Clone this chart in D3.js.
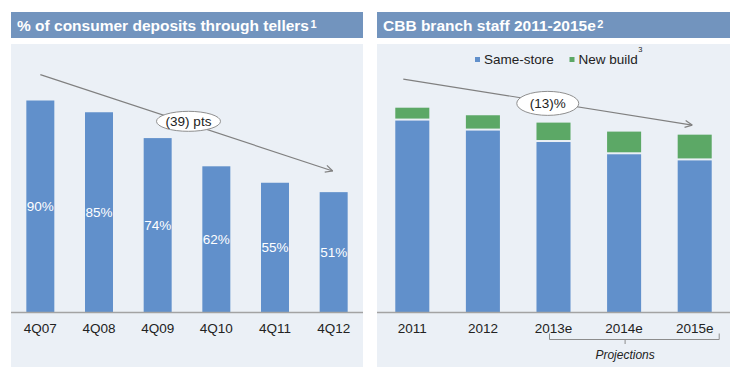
<!DOCTYPE html>
<html>
<head>
<meta charset="utf-8">
<script src="https://cdn.jsdelivr.net/npm/d3@7"></script>
<style>
  html, body { margin: 0; padding: 0; background: #ffffff; }
  svg { display: block; font-family: "Liberation Sans", Arial, sans-serif; }
</style>
</head>
<body>
<svg id="chart" width="736" height="370"></svg>
<script>
// ---- Data ----
const leftTitle = "% of consumer deposits through tellers";
const leftTitleNote = "1";
const leftCategories = ["4Q07", "4Q08", "4Q09", "4Q10", "4Q11", "4Q12"];
const leftValues = [90, 85, 74, 62, 55, 51];
const leftLabels = ["90%", "85%", "74%", "62%", "55%", "51%"];
const leftTrendLabel = "(39) pts";
const leftTrendFrom = 101;   // value at start of trend arrow
const leftTrendTo = 60;      // value at end of trend arrow

const rightTitle = "CBB branch staff 2011-2015e";
const rightTitleNote = "2";
const rightCategories = ["2011", "2012", "2013e", "2014e", "2015e"];
const sameStore = [93.7, 88.8, 83.2, 77.2, 74.2];   // index, 2011 total = 100
const newBuild = [6.3, 7.5, 9.5, 11.1, 12.6];
const seriesNames = ["Same-store", "New build"];
const seriesNotes = ["", "3"];
const rightTrendLabel = "(13)%";
const rightTrendFrom = 114;
const rightTrendTo = 91.5;
const projectionCategories = ["2013e", "2014e", "2015e"];
const projectionLabel = "Projections";

// ---- Styles ----
const C = {
  header: "#7294be",
  panel: "#ebf0f6",
  blue: "#6190cb",
  green: "#5ca866",
  axis: "#a3a3a3",
  text: "#222222",
  arrow: "#808080"
};

const svg = d3.select("#chart");

function panel(x, w, title, note) {
  svg.append("rect").attr("x", x).attr("y", 12).attr("width", w).attr("height", 26).attr("fill", C.header);
  svg.append("rect").attr("x", x).attr("y", 44).attr("width", w).attr("height", 323).attr("fill", C.panel);
  const t = svg.append("text").attr("x", x + 6).attr("y", 31)
    .attr("fill", "#ffffff").attr("font-weight", "bold").attr("font-size", "15.5px");
  t.append("tspan").text(title);
  t.append("tspan").attr("font-size", "11px").attr("dx", 1.5).attr("dy", -3).text(note);
}

const baseY = 312;

function arrow(g, x1, y1, x2, y2) {
  g.append("line").attr("x1", x1).attr("y1", y1).attr("x2", x2).attr("y2", y2)
    .attr("stroke", C.arrow).attr("stroke-width", 1.2);
  const a = Math.atan2(y2 - y1, x2 - x1);
  const L = 8, spread = 0.45;
  [a + Math.PI - spread, a + Math.PI + spread].forEach(t => {
    g.append("line").attr("x1", x2).attr("y1", y2)
      .attr("x2", x2 + L * Math.cos(t)).attr("y2", y2 + L * Math.sin(t))
      .attr("stroke", C.arrow).attr("stroke-width", 1.2);
  });
}

function bubble(g, cx, cy, rx, ry, label, fs) {
  g.append("ellipse").attr("cx", cx).attr("cy", cy).attr("rx", rx).attr("ry", ry)
    .attr("fill", "#ffffff").attr("stroke", "#8f8f8f").attr("stroke-width", 1);
  g.append("text").attr("x", cx).attr("y", cy + fs * 0.36).attr("text-anchor", "middle")
    .attr("font-size", fs + "px").attr("fill", C.text).text(label);
}

// ---- Left panel ----
panel(11, 352, leftTitle, leftTitleNote);
const xL = d3.scaleBand().domain(leftCategories).range([11, 363]).paddingInner(0.523).paddingOuter(0.2615);
const yL = d3.scaleLinear().domain([0, 100]).range([baseY, baseY - 235]);
const gL = svg.append("g");

gL.selectAll("rect.bar").data(leftValues).join("rect")
  .attr("x", (d, i) => xL(leftCategories[i]))
  .attr("y", d => yL(d))
  .attr("width", xL.bandwidth())
  .attr("height", d => yL(0) - yL(d))
  .attr("fill", C.blue);

gL.selectAll("text.val").data(leftValues).join("text")
  .attr("x", (d, i) => xL(leftCategories[i]) + xL.bandwidth() / 2)
  .attr("y", d => (yL(d) + yL(0)) / 2 + 5)
  .attr("text-anchor", "middle").attr("font-size", "13.5px").attr("fill", "#ffffff")
  .text((d, i) => leftLabels[i]);

const axL = gL.append("g").attr("transform", `translate(0,${baseY})`)
  .call(d3.axisBottom(xL).tickSize(0).tickPadding(0));
axL.select(".domain").remove();
axL.selectAll("text").attr("y", 21).attr("dy", null).attr("font-size", "13.5px")
  .attr("font-family", "Liberation Sans, Arial, sans-serif").attr("fill", C.text);
gL.append("line").attr("x1", 11).attr("x2", 363).attr("y1", baseY + 0.5).attr("y2", baseY + 0.5)
  .attr("stroke", C.axis).attr("stroke-width", 1.5);

{
  const x1 = xL(leftCategories[0]) + xL.bandwidth() / 2;
  const x2 = xL(leftCategories[leftCategories.length - 1]) + xL.bandwidth() / 2 - 1;
  const y1 = yL(leftTrendFrom), y2 = yL(leftTrendTo);
  arrow(gL, x1, y1, x2, y2);
  bubble(gL, (x1 + x2) / 2 + 2, (y1 + y2) / 2 - 1.5, 32, 10, leftTrendLabel, 13.5);
}

// ---- Right panel ----
panel(377, 353, rightTitle, rightTitleNote);
const xR = d3.scaleBand().domain(rightCategories).range([377, 730]).paddingInner(0.518).paddingOuter(0.259);
const yR = d3.scaleLinear().domain([0, 100]).range([baseY, baseY - 204.3]);
const gR = svg.append("g");

const stackData = rightCategories.map((c, i) => ({ cat: c, same: sameStore[i], build: newBuild[i] }));
const stacked = d3.stack().keys(["same", "build"])(stackData);
const colors = [C.blue, C.green];

stacked.forEach((layer, li) => {
  gR.selectAll("rect.l" + li).data(layer).join("rect")
    .attr("x", d => xR(d.data.cat))
    .attr("width", xR.bandwidth())
    .attr("y", d => yR(d[1]))
    .attr("height", d => Math.max(0, yR(d[0]) - yR(d[1]) - (li === 1 ? 2 : 0)))
    .attr("fill", colors[li]);
});

const axR = gR.append("g").attr("transform", `translate(0,${baseY})`)
  .call(d3.axisBottom(xR).tickSize(0).tickPadding(0));
axR.select(".domain").remove();
axR.selectAll("text").attr("y", 21).attr("dy", null).attr("font-size", "13.5px")
  .attr("font-family", "Liberation Sans, Arial, sans-serif").attr("fill", C.text);
gR.append("line").attr("x1", 377).attr("x2", 730).attr("y1", baseY + 0.5).attr("y2", baseY + 0.5)
  .attr("stroke", C.axis).attr("stroke-width", 1.5);

// legend
{
  const lg = gR.append("g");
  const xs = [475, 569.5];
  seriesNames.forEach((name, i) => {
    lg.append("rect").attr("x", xs[i]).attr("y", 57).attr("width", 5).attr("height", 5).attr("fill", colors[i]);
    const t = lg.append("text").attr("x", xs[i] + 9).attr("y", 64).attr("font-size", "13.5px").attr("fill", C.text);
    t.append("tspan").text(name);
    if (seriesNotes[i]) t.append("tspan").attr("font-size", "7.5px").attr("dx", 0.5).attr("dy", -12).text(seriesNotes[i]);
  });
}

{
  const x1 = xR(rightCategories[0]) + xR.bandwidth() / 2 - 9;
  const x2 = xR(rightCategories[rightCategories.length - 1]) + xR.bandwidth() / 2 - 2.5;
  const y1 = yR(rightTrendFrom), y2 = yR(rightTrendTo);
  arrow(gR, x1, y1, x2, y2);
  bubble(gR, (x1 + x2) / 2, (y1 + y2) / 2 + 1.3, 31, 12, rightTrendLabel, 13.5);
}

// projections bracket
{
  const pStart = xR(projectionCategories[0]) + 13;
  const pEnd = xR(projectionCategories[projectionCategories.length - 1]) + xR.bandwidth() + 7.5;
  const pMid = xR(projectionCategories[1]) + xR.bandwidth() / 2 + 1;
  const by = 339.5;
  const bg = gR.append("g").attr("stroke", "#8c8c8c").attr("stroke-width", 1).attr("fill", "none");
  bg.append("path").attr("d", `M${pStart},${by - 6} V${by} H${pEnd} V${by - 6}`);
  bg.append("line").attr("x1", pMid).attr("x2", pMid).attr("y1", by).attr("y2", by + 4.5);
  gR.append("text").attr("x", pMid).attr("y", 359).attr("text-anchor", "middle")
    .attr("font-size", "12px").attr("font-style", "italic").attr("fill", C.text).text(projectionLabel);
}
</script>
</body>
</html>
